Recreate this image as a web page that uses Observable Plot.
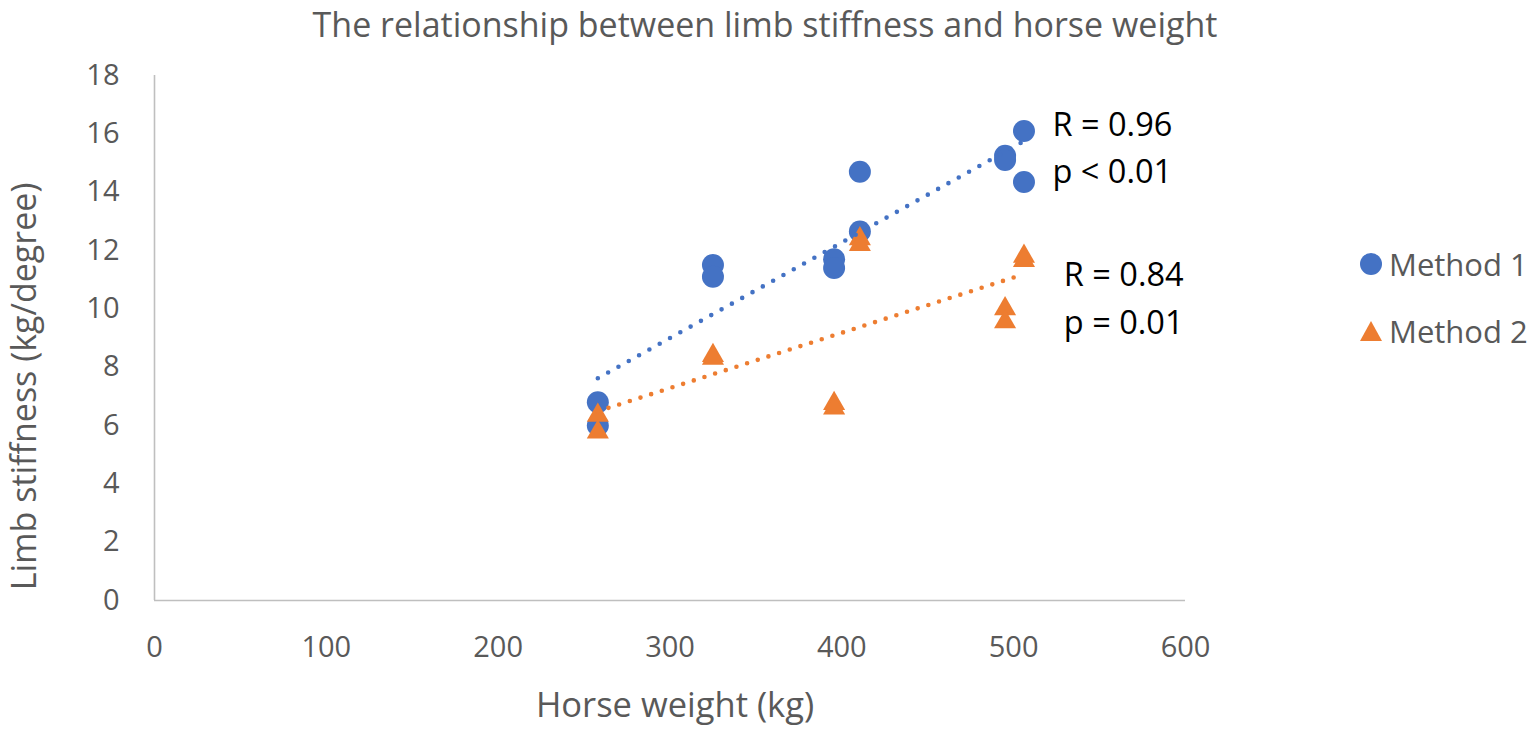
<!DOCTYPE html>
<html>
<head>
<meta charset="utf-8">
<script src="https://cdn.jsdelivr.net/npm/d3@7"></script>
<script src="https://cdn.jsdelivr.net/npm/@observablehq/plot@0.6"></script>
<style>
  html, body { margin: 0; padding: 0; background: #fff; }
  #wrap { position: relative; width: 1535px; height: 730px; font-family: "Open Sans", sans-serif; }
  .leg { position: absolute; left: 1359px; display: flex; align-items: center; color: #595959; font-size: 31px; line-height: 1; white-space: nowrap; }
  .leg svg { margin-right: 6px; }
</style>
</head>
<body>
<div id="wrap"></div>
<script>
// ---- data ----
const weight1 = [258, 258, 325, 325, 395.5, 395.5, 410.5, 410.5, 495, 495, 506, 506];
const stiff1  = [6.8, 6.0, 11.5, 11.1, 11.7, 11.4, 14.7, 12.65, 15.25, 15.1, 16.1, 14.35];
const weight2 = [258, 258, 325, 325, 395.5, 395.5, 410.5, 410.5, 495, 495, 506, 506];
const stiff2  = [6.35, 5.77, 8.4, 8.3, 6.75, 6.6, 12.4, 12.2, 10.0, 9.55, 11.8, 11.65];
const seriesNames = ["Method 1", "Method 2"];
const xTicks = [0, 100, 200, 300, 400, 500, 600];
const yTicks = [0, 2, 4, 6, 8, 10, 12, 14, 16, 18];
const statLabels = ["R = 0.96", "p < 0.01", "R = 0.84", "p = 0.01"];
const titleText = "The relationship between limb stiffness and horse weight";
const xLabel = "Horse weight (kg)";
const yLabel = "Limb stiffness (kg/degree)";

const blue = "#4472C4", orange = "#ED7D31", gray = "#595959";

const m1 = weight1.map((w, i) => ({weight: w, stiffness: stiff1[i], method: seriesNames[0]}));
const m2 = weight2.map((w, i) => ({weight: w, stiffness: stiff2[i], method: seriesNames[1]}));

// annotation anchors in data space
const ann = [
  {text: statLabels[0], x: 522.6, y: 16.29},
  {text: statLabels[1], x: 522.6, y: 14.68},
  {text: statLabels[2], x: 529.2, y: 11.14},
  {text: statLabels[3], x: 529.2, y: 9.49}
];

const chart = Plot.plot({
  width: 1535,
  height: 730,
  marginLeft: 154,
  marginRight: 350,
  marginTop: 75,
  marginBottom: 130,
  style: {fontFamily: "Open Sans", fontSize: "29px", color: gray, background: "#fff"},
  x: {domain: [0, 600], ticks: xTicks, tickSize: 0, tickPadding: 36, label: null},
  y: {domain: [0, 18], ticks: yTicks, tickSize: 0, tickPadding: 35, label: null},
  marks: [
    Plot.ruleY([0], {stroke: "#bfbfbf", strokeWidth: 1.6}),
    Plot.ruleX([0], {stroke: "#bfbfbf", strokeWidth: 1.6}),
    Plot.dot(m1, {x: "weight", y: "stiffness", r: 11, fill: blue, stroke: "none", symbol: "circle"}),
    Plot.dot(m2, {x: "weight", y: "stiffness", r: 8.2, fill: orange, stroke: "none", symbol: "triangle"}),
    Plot.linearRegressionY(m1, {x: "weight", y: "stiffness", stroke: blue, ci: 0, strokeWidth: 4.6, strokeDasharray: "0,11.8", strokeLinecap: "round"}),
    Plot.linearRegressionY(m2, {x: "weight", y: "stiffness", stroke: orange, ci: 0, strokeWidth: 4.6, strokeDasharray: "0,11.2", strokeLinecap: "round"}),
    Plot.text(ann, {x: "x", y: "y", text: "text", textAnchor: "start", lineAnchor: "middle", fill: "#000", fontSize: 32.5}),
    Plot.text([titleText], {frameAnchor: "top", lineAnchor: "middle", dy: -49, dx: 95, fontSize: 34, fill: gray}),
    Plot.text([xLabel], {frameAnchor: "bottom", lineAnchor: "middle", dy: 105, dx: 5, fontSize: 34.5, fill: gray}),
    Plot.text([yLabel], {x: [-75.5], y: [7.34], rotate: -90, lineAnchor: "middle", textAnchor: "middle", fontSize: 34, fill: gray})
  ]
});

const wrap = document.getElementById("wrap");
wrap.appendChild(chart);

// legend
const legendItems = [
  {name: seriesNames[0], color: blue, shape: "circle", top: 246},
  {name: seriesNames[1], color: orange, shape: "triangle", top: 313}
];
for (const item of legendItems) {
  const div = document.createElement("div");
  div.className = "leg";
  div.style.top = item.top + "px";
  const sym = item.shape === "circle"
    ? `<svg width="24" height="36" viewBox="0 0 24 36"><circle cx="12" cy="18" r="11" fill="${item.color}"/></svg>`
    : `<svg width="24" height="36" viewBox="0 0 24 36"><path d="M12,8 L23,28 L1,28 Z" fill="${item.color}"/></svg>`;
  div.innerHTML = sym + `<span>${item.name}</span>`;
  wrap.appendChild(div);
}
</script>
</body>
</html>
